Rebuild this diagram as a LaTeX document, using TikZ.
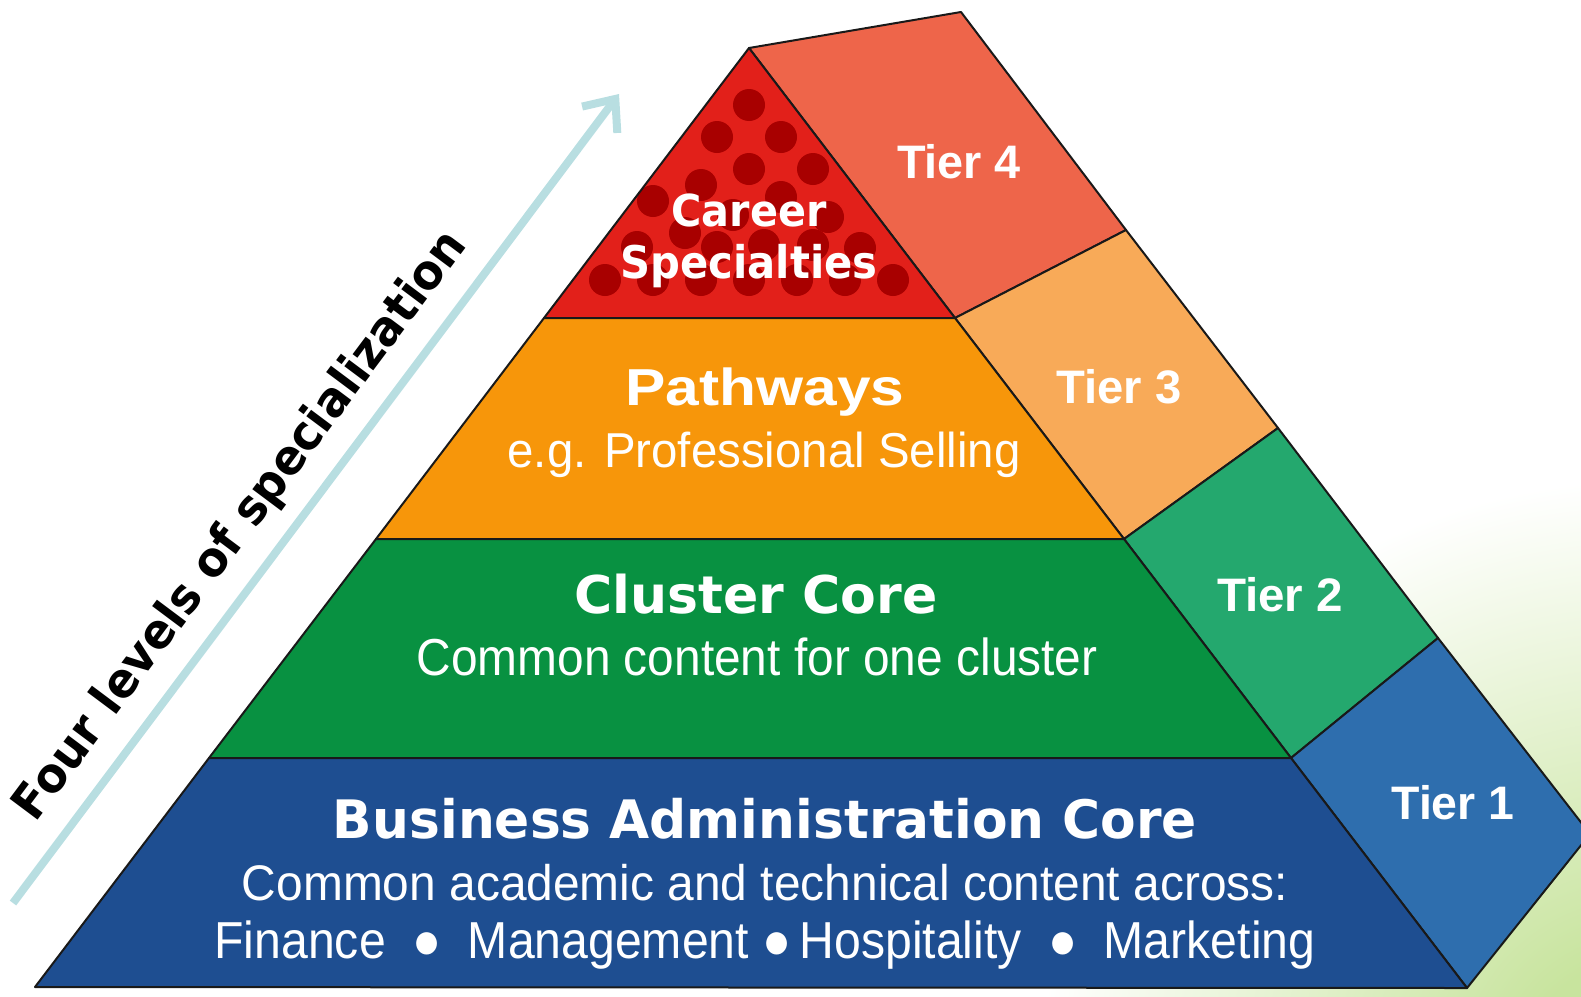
\documentclass[tikz,border=0pt]{standalone}
\usepackage{fontspec}
\setmainfont{Liberation Sans}
\newfontfamily\heavyfont{DejaVu Sans}
\usetikzlibrary{arrows.meta}

\definecolor{redfront}{RGB}{226,32,26}
\definecolor{reddot}{RGB}{168,0,0}
\definecolor{redside}{RGB}{238,101,74}
\definecolor{orangefront}{RGB}{247,150,10}
\definecolor{orangeside}{RGB}{248,170,88}
\definecolor{greenfront}{RGB}{8,145,65}
\definecolor{greenside}{RGB}{36,168,110}
\definecolor{bluefront}{RGB}{30,78,145}
\definecolor{blueside}{RGB}{46,110,174}
\definecolor{arrowteal}{RGB}{184,222,225}
\definecolor{edgedark}{RGB}{25,25,25}
\definecolor{bggreen}{RGB}{200,228,158}

\pgfdeclareradialshading{bgglow}{\pgfpoint{0bp}{0bp}}{color(0bp)=(bggreen); color(5bp)=(bggreen); color(25bp)=(white); color(50bp)=(white)}

% squeeze a text to a given width, keep its height
\newcommand{\fitwidth}[2]{\resizebox{#1}{\height}{#2}}

\begin{document}
\begin{tikzpicture}[x=1pt, y=-1pt,
    face/.style={draw=edgedark, line width=2pt, line join=round},
    tierlabel/.style={anchor=base, inner sep=0pt, text=white, font=\bfseries\fontsize{47}{50}\selectfont},
    heavytitle/.style={anchor=base, inner sep=0pt, text=white, font=\heavyfont\bfseries\fontsize{52}{56}\selectfont},
    plaintitle/.style={anchor=base, inner sep=0pt, text=white, font=\bfseries\fontsize{52}{56}\selectfont},
    bandtext/.style={anchor=base, inner sep=0pt, text=white, font=\fontsize{50}{54}\selectfont},
    spectext/.style={anchor=base, inner sep=0pt, text=black, font=\heavyfont\bfseries\fontsize{48}{52}\selectfont},
  ]
  \useasboundingbox (0,0) rectangle (1581,996);
  \clip (0,0) rectangle (1581,996);

  % background glow
  \shade[shading=bgglow] (1640,1080) circle (600);

  % corners of the pyramid
  \coordinate (apex) at (749,48);
  \coordinate (ridge) at (961,12);
  \coordinate (l1) at (544,318);  \coordinate (r1) at (955,318);
  \coordinate (l2) at (376,539);  \coordinate (r2) at (1124,539);
  \coordinate (l3) at (209,758);  \coordinate (r3) at (1291,758);
  \coordinate (l4) at (35,987);   \coordinate (r4) at (1467,988);
  \coordinate (b1) at (1126,230); \coordinate (b2) at (1278,428);
  \coordinate (b3) at (1438,638); \coordinate (b4) at (1590,834);

  % side faces
  \filldraw[face, fill=redside] (apex) -- (ridge) -- (b1) -- (r1) -- cycle;
  \filldraw[face, fill=orangeside] (r1) -- (b1) -- (b2) -- (r2) -- cycle;
  \filldraw[face, fill=greenside] (r2) -- (b2) -- (b3) -- (r3) -- cycle;
  \filldraw[face, fill=blueside] (r3) -- (b3) -- (b4) -- (r4) -- cycle;

  % front faces
  \fill[redfront] (apex) -- (l1) -- (r1) -- cycle;
  \begin{scope}
    \clip (apex) -- (l1) -- (r1) -- cycle;
    \foreach \dx/\dy in {749/105, 717/137, 781/137, 749/169, 813/169, 701/185,
        781/197, 653/201, 733/215, 828/217, 685/233, 637/247, 717/247, 764/245,
        813/245, 860/248, 605/280, 653/280, 701/280, 749/280, 797/280, 845/280, 893/280}
      \fill[reddot] (\dx,\dy) circle (16);
  \end{scope}
  \draw[face] (apex) -- (l1) -- (r1) -- cycle;
  \filldraw[face, fill=orangefront] (l1) -- (r1) -- (r2) -- (l2) -- cycle;
  \filldraw[face, fill=greenfront] (l2) -- (r2) -- (r3) -- (l3) -- cycle;
  \filldraw[face, fill=bluefront] (l3) -- (r3) -- (r4) -- (l4) -- cycle;

  % tier labels on the side
  \node[tierlabel] (tierfour) at (959,178) {\fitwidth{124pt}{Tier 4}};
  \node[tierlabel] (tierthree) at (1119,403) {\fitwidth{125pt}{Tier 3}};
  \node[tierlabel] (tiertwo) at (1280,611) {\fitwidth{126pt}{Tier 2}};
  \node[tierlabel] (tierone) at (1453,819) {\fitwidth{123pt}{Tier 1}};

  % band texts
  \node[heavytitle, font=\heavyfont\bfseries\fontsize{44}{48}\selectfont] (career) at (749,226) {\fitwidth{155pt}{Career}};
  \node[heavytitle, font=\heavyfont\bfseries\fontsize{45}{48}\selectfont] (special) at (749,278) {\fitwidth{257pt}{Specialties}};
  \node[plaintitle] (pathways) at (765,405) {\fitwidth{279pt}{Pathways}};
  \node[bandtext, font=\fontsize{49}{52}\selectfont] (selling) at (764,467) {\fitwidth{513pt}{e.g. Professional Selling}};
  \node[heavytitle] (cluster) at (756,613) {\fitwidth{363pt}{Cluster Core}};
  \node[bandtext, font=\fontsize{52}{56}\selectfont] (clustertext) at (757,675) {\fitwidth{681pt}{Common content for one cluster}};
  \node[heavytitle, font=\heavyfont\bfseries\fontsize{53}{56}\selectfont] (business) at (765,838) {\fitwidth{864pt}{Business Administration Core}};
  \node[bandtext] (academic) at (765,900) {\fitwidth{1046pt}{Common academic and technical content across:}};
  \node[bandtext, font=\fontsize{52}{56}\selectfont] (fields) at (765,958) {\fitwidth{1101pt}{Finance\hspace{0.55em}●\hspace{0.55em}Management ●\,Hospitality\hspace{0.55em}●\hspace{0.55em}Marketing}};

  % arrow with its text
  \coordinate (arrowtail) at (13,903);
  \coordinate (arrowtip) at (619,94);
  \draw[line width=8pt, draw=arrowteal, -{Straight Barb[length=26pt,width=44pt]}] (arrowtail) -- (arrowtip);
  \node[spectext, rotate=53.2] (levels) at (252,534) {\fitwidth{722pt}{Four levels of specialization}};
\end{tikzpicture}
\end{document}
